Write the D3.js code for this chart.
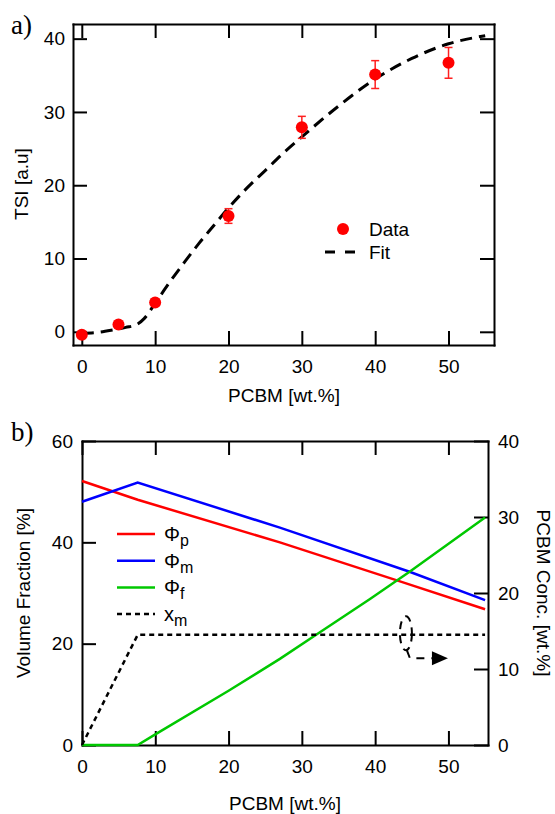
<!DOCTYPE html>
<html>
<head>
<meta charset="utf-8">
<script src="https://cdn.jsdelivr.net/npm/d3@7"></script>
<style>
  body { margin: 0; background: #fff; }
  svg { display: block; font-family: "Liberation Sans", Arial, sans-serif; }
</style>
</head>
<body>
<svg id="chart"></svg>
<script>
// ---- panel a) : TSI vs PCBM ----
let tsiX = [0, 5, 10, 20, 30, 40, 50];
let tsiY = [-0.4, 1.0, 4.0, 15.8, 27.9, 35.1, 36.7];
let tsiErr = [0.2, 0.2, 0.3, 1.0, 1.5, 1.9, 2.1];

let fitX = [0, 2, 4, 6, 7.5, 8.5, 10, 12, 14, 16, 18, 20, 22.5, 25, 27.5, 30, 35, 40, 45, 50, 55];
let fitY = [-0.2, -0.1, 0.2, 0.6, 1.0, 1.8, 3.9, 6.8, 9.5, 12.1, 14.5, 16.9, 19.6, 22.0, 24.4, 26.6, 30.8, 34.5, 37.3, 39.3, 40.4];

let tsiTicksX = [0, 10, 20, 30, 40, 50];
let tsiTicksY = [0, 10, 20, 30, 40];

// ---- panel b) : volume fractions ----
let phiPX = [0, 7.6, 27, 43.6, 55];
let phiPY = [52.1, 48.4, 40.0, 32.2, 26.8];
let phiMX = [0, 7.6, 27, 44.7, 55];
let phiMY = [48.0, 51.8, 42.9, 34.2, 28.6];
let phiFX = [0, 7.6, 10, 20, 27, 32, 39.3, 44.7, 55];
let phiFY = [0, 0, 2.1, 10.7, 17.0, 21.8, 28.8, 34.2, 44.9];
let xmX = [0, 7.6, 55];
let xmY = [0, 14.5, 14.5];   // right axis (PCBM conc.)

let volTicksX = [0, 10, 20, 30, 40, 50];
let volTicksL = [0, 20, 40, 60];
let volTicksR = [0, 10, 20, 30, 40];

let legendNames = [['Φ', 'p'], ['Φ', 'm'], ['Φ', 'f'], ['x', 'm']];
let legendColors = ['#ff0000', '#0000ff', '#00c800', '#000'];

let svg = d3.select('#chart').attr('width', 555).attr('height', 814);
let FONT = '"Liberation Sans", Arial, sans-serif';

// common styling for the boxed axes
function styleAxis(g) {
    g.attr('font-family', FONT).attr('font-size', 19);
    g.select('.domain').attr('stroke', '#000').attr('stroke-width', 2).attr('stroke-linecap', 'square');
    g.selectAll('.tick line').attr('stroke', '#000').attr('stroke-width', 2);
    g.selectAll('.tick text').attr('fill', '#000');
}

// ================= panel a =================
let xA = d3.scaleLinear().domain([-1.2, 56.2]).range([73, 494]);
let yA = d3.scaleLinear().domain([-1.8, 42]).range([345, 24]);

svg.append('g').attr('transform', 'translate(0,345)')
    .call(d3.axisBottom(xA).tickValues(tsiTicksX).tickSize(-14).tickSizeOuter(0).tickPadding(15))
    .call(styleAxis);
svg.append('g').attr('transform', 'translate(0,24)')
    .call(d3.axisTop(xA).tickValues(tsiTicksX).tickSize(-14).tickSizeOuter(0).tickFormat(''))
    .call(styleAxis);
svg.append('g').attr('transform', 'translate(73,0)')
    .call(d3.axisLeft(yA).tickValues(tsiTicksY).tickSize(-14).tickSizeOuter(0).tickPadding(8))
    .call(styleAxis);
svg.append('g').attr('transform', 'translate(494,0)')
    .call(d3.axisRight(yA).tickValues(tsiTicksY).tickSize(-14).tickSizeOuter(0).tickFormat(''))
    .call(styleAxis);

// fit curve
let fitLine = d3.line().x(d => xA(d[0])).y(d => yA(d[1])).curve(d3.curveMonotoneX);
svg.append('path')
    .datum(fitX.map((x, i) => [x, fitY[i]]))
    .attr('d', fitLine)
    .attr('fill', 'none')
    .attr('stroke', '#000')
    .attr('stroke-width', 3)
    .attr('stroke-dasharray', '12,7');

// error bars + points
let tsiData = tsiX.map((x, i) => ({ x: x, y: tsiY[i], e: tsiErr[i] }));
let bars = svg.append('g').attr('stroke', '#ff2020').attr('stroke-width', 1.5);
tsiData.forEach(d => {
    bars.append('line').attr('x1', xA(d.x)).attr('x2', xA(d.x)).attr('y1', yA(d.y - d.e)).attr('y2', yA(d.y + d.e));
    bars.append('line').attr('x1', xA(d.x) - 4).attr('x2', xA(d.x) + 4).attr('y1', yA(d.y - d.e)).attr('y2', yA(d.y - d.e));
    bars.append('line').attr('x1', xA(d.x) - 4).attr('x2', xA(d.x) + 4).attr('y1', yA(d.y + d.e)).attr('y2', yA(d.y + d.e));
});
svg.append('g').selectAll('circle')
    .data(tsiData)
    .enter().append('circle')
    .attr('cx', d => xA(d.x))
    .attr('cy', d => yA(d.y))
    .attr('r', 6)
    .attr('fill', '#ff0000');

// legend a
svg.append('circle').attr('cx', 343).attr('cy', 229).attr('r', 6).attr('fill', '#ff0000');
svg.append('text').attr('x', 369).attr('y', 236).attr('font-size', 19).text('Data');
svg.append('line').attr('x1', 325).attr('x2', 355).attr('y1', 252).attr('y2', 252)
    .attr('stroke', '#000').attr('stroke-width', 3).attr('stroke-dasharray', '10,10');
svg.append('text').attr('x', 369).attr('y', 259).attr('font-size', 19).text('Fit');

// axis titles a
svg.append('text').attr('x', 284).attr('y', 402).attr('text-anchor', 'middle').attr('font-size', 19).text('PCBM [wt.%]');
svg.append('text').attr('transform', 'translate(28,184) rotate(-90)').attr('text-anchor', 'middle').attr('font-size', 19).text('TSI [a.u]');
svg.append('text').attr('x', 11).attr('y', 34).attr('font-family', '"Liberation Serif", "Times New Roman", serif').attr('font-size', 27).text('a)');

// ================= panel b =================
let xB = d3.scaleLinear().domain([0, 55.4]).range([82, 488]);
let yL = d3.scaleLinear().domain([0, 60]).range([745, 441]);
let yR = d3.scaleLinear().domain([0, 40]).range([745, 441]);

svg.append('g').attr('transform', 'translate(0,745)')
    .call(d3.axisBottom(xB).tickValues(volTicksX).tickSize(-14).tickSizeOuter(0).tickPadding(15))
    .call(styleAxis);
svg.append('g').attr('transform', 'translate(0,441)')
    .call(d3.axisTop(xB).tickValues(volTicksX).tickSize(-14).tickSizeOuter(0).tickFormat(''))
    .call(styleAxis);
svg.append('g').attr('transform', 'translate(82,0)')
    .call(d3.axisLeft(yL).tickValues(volTicksL).tickSize(-14).tickSizeOuter(0).tickPadding(9))
    .call(styleAxis);
svg.append('g').attr('transform', 'translate(488,0)')
    .call(d3.axisRight(yR).tickValues(volTicksR).tickSize(-14).tickSizeOuter(0).tickPadding(10))
    .call(styleAxis);

let lineL = d3.line().x(d => xB(d[0])).y(d => yL(d[1]));
let lineR = d3.line().x(d => xB(d[0])).y(d => yR(d[1]));
let series = [
    { xs: phiPX, ys: phiPY, color: legendColors[0], gen: lineL },
    { xs: phiMX, ys: phiMY, color: legendColors[1], gen: lineL },
    { xs: phiFX, ys: phiFY, color: legendColors[2], gen: lineL }
];
series.forEach(s => {
    svg.append('path')
        .datum(s.xs.map((x, i) => [x, s.ys[i]]))
        .attr('d', s.gen)
        .attr('fill', 'none')
        .attr('stroke', s.color)
        .attr('stroke-width', 2.5);
});
svg.append('path')
    .datum(xmX.map((x, i) => [x, xmY[i]]))
    .attr('d', lineR)
    .attr('fill', 'none')
    .attr('stroke', '#000')
    .attr('stroke-width', 2.5)
    .attr('stroke-dasharray', '5,4');

// annotation: ellipse around x_m line, arrow towards right axis
let ex = xB(44.2), ey = yR(14.7);
svg.append('ellipse').attr('cx', ex).attr('cy', ey).attr('rx', 6).attr('ry', 17)
    .attr('fill', 'none').attr('stroke', '#000').attr('stroke-width', 2).attr('stroke-dasharray', '8,6');
svg.append('path')
    .attr('d', `M${ex + 1},${ey + 17} L${ex + 4},${ey + 25} L${ex + 27},${ey + 25}`)
    .attr('fill', 'none').attr('stroke', '#000').attr('stroke-width', 2).attr('stroke-dasharray', '8,7');
svg.append('path')
    .attr('d', `M${ex + 26},${ey + 18} L${ex + 42},${ey + 25} L${ex + 26},${ey + 32} Z`)
    .attr('fill', '#000');

// legend b
let leg = svg.append('g');
legendNames.forEach((n, i) => {
    let y = 534 + i * 26.7;
    leg.append('line').attr('x1', 117).attr('x2', 155).attr('y1', y).attr('y2', y)
        .attr('stroke', legendColors[i]).attr('stroke-width', 2.5)
        .attr('stroke-dasharray', i === 3 ? '5,4' : null);
    let t = leg.append('text').attr('x', 164).attr('y', y + 7).attr('font-size', 20);
    t.append('tspan').text(n[0]);
    t.append('tspan').attr('font-size', 16).attr('dy', 5).text(n[1]);
});

// axis titles b
svg.append('text').attr('x', 285).attr('y', 810).attr('text-anchor', 'middle').attr('font-size', 19).text('PCBM [wt.%]');
svg.append('text').attr('transform', 'translate(30,593) rotate(-90)').attr('text-anchor', 'middle').attr('font-size', 19).text('Volume Fraction [%]');
svg.append('text').attr('transform', 'translate(537,593) rotate(90)').attr('text-anchor', 'middle').attr('font-size', 19).text('PCBM Conc. [wt.%]');
svg.append('text').attr('x', 11).attr('y', 441).attr('font-family', '"Liberation Serif", "Times New Roman", serif').attr('font-size', 27).text('b)');
</script>
</body>
</html>
